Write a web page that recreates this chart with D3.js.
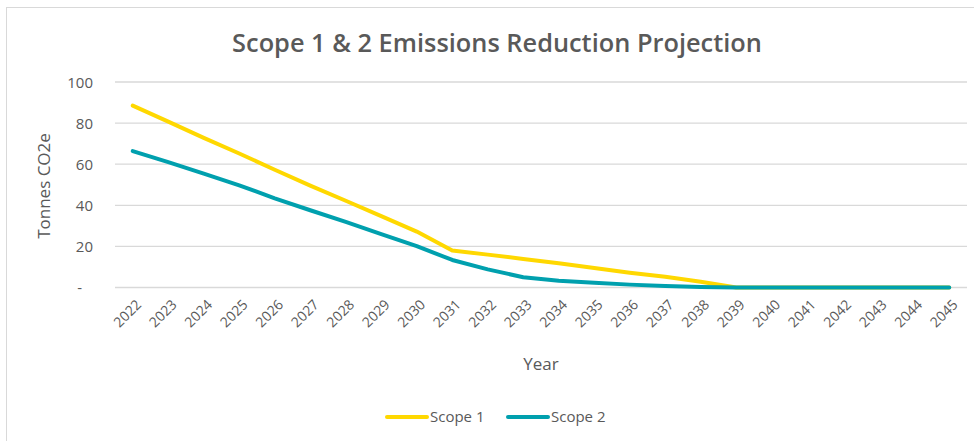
<!DOCTYPE html>
<html>
<head>
<meta charset="utf-8">
<script src="https://cdn.jsdelivr.net/npm/d3@7"></script>
<style>
  html, body { margin: 0; padding: 0; background: #fff; }
  svg { display: block; }
  text { font-family: "Open Sans", "Noto Sans", sans-serif; fill: #595959; }
</style>
</head>
<body>
<svg id="chart" width="974" height="441"></svg>
<script>
const years = ["2022","2023","2024","2025","2026","2027","2028","2029","2030","2031","2032","2033",
  "2034","2035","2036","2037","2038","2039","2040","2041","2042","2043","2044","2045"];
const scope1 = [88.5, 80.7, 72.8, 65.2, 57.3, 49.6, 42.2, 34.7, 27.2, 18.0, 16.0, 13.9,
  11.8, 9.5, 7.2, 5.2, 2.8, 0, 0, 0, 0, 0, 0, 0];
const scope2 = [66.4, 61.0, 55.4, 49.7, 43.4, 37.6, 31.9, 26.0, 20.1, 13.4, 8.8, 5.0,
  3.3, 2.3, 1.4, 0.7, 0.3, 0, 0, 0, 0, 0, 0, 0];
const yTicks = [0, 20, 40, 60, 80, 100];
const seriesNames = ["Scope 1", "Scope 2"];
const colors = ["#FFD800", "#00A0AE"];

const svg = d3.select("#chart");

// chart border
svg.append("rect").attr("x", 6.5).attr("y", 7.5).attr("width", 1000).attr("height", 1000)
  .attr("fill", "none").attr("stroke", "#D9D9D9").attr("stroke-width", 1);

const plot = { left: 115, right: 967, top: 82, bottom: 287.5 };

const x = d3.scalePoint().domain(years).range([plot.left, plot.right]).padding(0.5);
const y = d3.scaleLinear().domain([0, 100]).range([plot.bottom, plot.top]);

// gridlines
svg.append("g").selectAll("line").data(yTicks).join("line")
  .attr("x1", plot.left).attr("x2", plot.right)
  .attr("y1", d => y(d)).attr("y2", d => y(d))
  .attr("stroke", "#D9D9D9").attr("stroke-width", 1.3);

// y axis
const yAxis = d3.axisLeft(y).tickValues(yTicks).tickSize(0).tickPadding(0)
  .tickFormat(d => d === 0 ? "-" : d);
const gy = svg.append("g").attr("transform", `translate(${plot.left - 22},0)`).call(yAxis);
gy.select(".domain").remove();
gy.selectAll("text").style("font-size", "15px").style("fill", "#595959")
  .attr("dy", "0.35em")
  .filter(d => d === 0).attr("dx", "-11");

// x axis
const xAxis = d3.axisBottom(x).tickSize(0).tickPadding(0);
const gx = svg.append("g").attr("transform", `translate(0,${plot.bottom})`).call(xAxis);
gx.select(".domain").remove();
gx.selectAll("text")
  .style("font-size", "14px").style("fill", "#595959")
  .attr("text-anchor", "end")
  .attr("y", 0).attr("dy", 0)
  .attr("transform", "translate(9,18) rotate(-45)");

// lines
const data = [scope1, scope2];
const line = d3.line().x((d, i) => x(years[i])).y(d => y(d));
svg.append("g").selectAll("path").data(data).join("path")
  .attr("d", d => line(d))
  .attr("fill", "none")
  .attr("stroke", (d, i) => colors[i])
  .attr("stroke-width", 4)
  .attr("stroke-linejoin", "round")
  .attr("stroke-linecap", "round");

// title (fit to the reference width)
const title = svg.append("text").attr("x", 497).attr("y", 52).attr("text-anchor", "middle")
  .style("font-size", "24px").style("font-weight", "600").style("fill", "#595959")
  .text("Scope 1 & 2 Emissions Reduction Projection");
const tw = title.node().getComputedTextLength();
title.style("font-size", (24 * 530 / tw).toFixed(2) + "px");

// axis titles
svg.append("text").attr("x", (plot.left + plot.right) / 2).attr("y", 370).attr("text-anchor", "middle")
  .style("font-size", "17px").text("Year");
svg.append("text").attr("transform", "translate(50,186) rotate(-90)").attr("text-anchor", "middle")
  .style("font-size", "17px").text("Tonnes CO2e");

// legend
const legendItems = [{ x: 387 }, { x: 508 }];
const lg = svg.append("g").selectAll("g").data(seriesNames).join("g")
  .attr("transform", (d, i) => `translate(${legendItems[i].x},417)`);
lg.append("line").attr("x1", 0).attr("x2", 40).attr("y1", 0).attr("y2", 0)
  .attr("stroke", (d, i) => colors[i]).attr("stroke-width", 4).attr("stroke-linecap", "round");
lg.append("text").attr("x", 43).attr("y", 0).attr("dy", "0.35em")
  .style("font-size", "15px").text(d => d);
</script>
</body>
</html>
